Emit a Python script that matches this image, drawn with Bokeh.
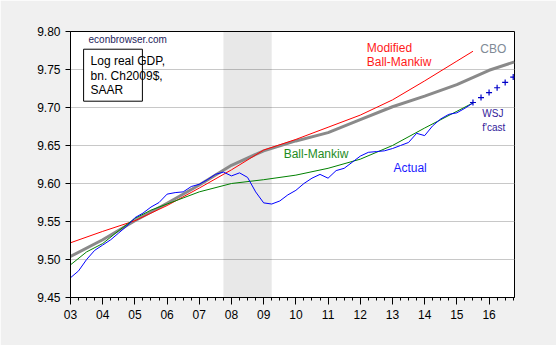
from bokeh.plotting import figure
from bokeh.models import (Range1d, FixedTicker, NumeralTickFormatter, Label,
                          BoxAnnotation)
from bokeh.embed import file_html
from bokeh.resources import INLINE

# ---------------- data ----------------
actual_start = 2003.0          # 2003Q1, quarterly
actual = [
    9.476, 9.485, 9.500, 9.512,
    9.519, 9.526, 9.535, 9.544,
    9.555, 9.561, 9.569, 9.575,
    9.586, 9.588, 9.589, 9.596,
    9.599, 9.605, 9.612, 9.615,
    9.610, 9.614, 9.608, 9.589,
    9.5745, 9.573, 9.577, 9.585,
    9.591, 9.600, 9.607, 9.612,
    9.607, 9.617, 9.620, 9.628,
    9.636, 9.641, 9.642, 9.643,
    9.646, 9.650, 9.654, 9.666,
    9.663, 9.676, 9.685, 9.691,
    9.693, 9.699, 9.706,
]

wsj_x = [2015.5, 2015.75, 2016.0, 2016.25, 2016.5, 2016.75]
wsj = [9.7066, 9.713, 9.7197, 9.726, 9.733, 9.740]

cbo_x = [2003, 2004, 2005, 2006, 2007, 2008, 2009, 2010, 2011, 2012,
         2013, 2014, 2015, 2016, 2016.79]
cbo = [9.504, 9.526, 9.551, 9.574, 9.598, 9.624, 9.643, 9.656, 9.667,
       9.684, 9.701, 9.715, 9.730, 9.749, 9.760]

mod_bm_x = [2003, 2004, 2005, 2006, 2007, 2008, 2009, 2010, 2011, 2012,
            2013, 2014, 2015, 2015.5]
mod_bm = [9.522, 9.537, 9.551, 9.571, 9.594, 9.618, 9.644, 9.658, 9.674,
          9.690, 9.710, 9.735, 9.761, 9.774]

bm_x = [2003, 2003.5, 2004, 2004.5, 2005, 2005.5, 2006, 2006.5, 2007, 2008,
        2009, 2010, 2011, 2012, 2013, 2014, 2015, 2015.5]
bm = [9.493, 9.510, 9.521, 9.538, 9.554, 9.565, 9.573, 9.581, 9.589, 9.600,
      9.605, 9.611, 9.620, 9.632, 9.650, 9.673, 9.695, 9.706]

recession = (2007.75, 2009.25)
year_ticks = list(range(2003, 2017))
year_labels = ["03", "04", "05", "06", "07", "08", "09", "10", "11", "12",
               "13", "14", "15", "16"]
y_ticks = [9.45, 9.50, 9.55, 9.60, 9.65, 9.70, 9.75, 9.80]

actual_x = [actual_start + 0.25 * i for i in range(len(actual))]

# ---------------- figure ----------------
FONT = "Liberation Sans"
p = figure(width=556, height=345, output_backend="svg", toolbar_location=None,
           x_range=Range1d(2003.0, 2016.79), y_range=Range1d(9.45, 9.80))
p.min_border_left = 70
p.min_border_right = 42
p.min_border_top = 31
p.min_border_bottom = 48
p.border_fill_color = "#f0f0f0"
p.background_fill_color = "white"
p.outline_line_color = "black"
p.outline_line_width = 1
p.outline_line_alpha = 1

# axes
minor = [y + q / 4 for y in range(2003, 2017) for q in range(4)]
p.xaxis.ticker = FixedTicker(ticks=year_ticks, minor_ticks=minor)
p.xaxis.major_label_overrides = {t: l for t, l in zip(year_ticks, year_labels)}
p.yaxis.ticker = FixedTicker(ticks=y_ticks)
p.yaxis.formatter = NumeralTickFormatter(format="0.00")
for ax in (p.xaxis[0], p.yaxis[0]):
    ax.axis_line_color = "black"
    ax.major_tick_line_color = "black"
    ax.minor_tick_line_color = "black"
    ax.major_tick_in = 0
    ax.minor_tick_in = 0
    ax.major_label_text_font = FONT
    ax.major_label_text_font_size = "12px"
    ax.major_label_text_color = "black"
    ax.major_label_standoff = 5
p.xaxis.major_tick_out = 7
p.xaxis.minor_tick_out = 3
p.yaxis.major_tick_out = 5
p.yaxis.minor_tick_line_color = None

p.xgrid.grid_line_color = None
p.ygrid.grid_line_color = "#c8c8c8"
p.ygrid.grid_line_width = 1

# recession shading
p.add_layout(BoxAnnotation(left=recession[0], right=recession[1],
                           fill_color="black", fill_alpha=0.09,
                           line_color=None, level="underlay"))

# lines
p.line(cbo_x, cbo, line_color="#8a8a8a", line_width=3)
p.line(mod_bm_x, mod_bm, line_color="#ff0000", line_width=1)
p.line(bm_x, bm, line_color="#008000", line_width=1)
p.line(actual_x, actual, line_color="#0000ff", line_width=1)
p.scatter(wsj_x, wsj, marker="cross", size=6, line_width=1.2,
          line_color="#0000c8")

# text annotations
def lab(x, y, text, color, size="12px"):
    p.add_layout(Label(x=x, y=y, text=text, text_color=color,
                       text_font=FONT, text_font_size=size,
                       text_baseline="middle", text_align="left"))

lab(2003.56, 9.7899, "econbrowser.com", "#1c1c5a", "10px")
p.add_layout(BoxAnnotation(left=2003.407, right=2005.233, bottom=9.7083,
                           top=9.7767, fill_color="white", fill_alpha=1,
                           line_color="black", line_alpha=1, line_width=1))
lab(2003.624, 9.7609, "Log real GDP,", "black")
lab(2003.624, 9.7412, "bn. Ch2009$,", "black")
lab(2003.624, 9.7228, "SAAR", "black")
lab(2012.20, 9.7780, "Modified", "#ff1a1a")
lab(2012.20, 9.7600, "Ball-Mankiw", "#ff1a1a")
lab(2015.73, 9.7767, "CBO", "#808a96")
lab(2015.79, 9.6924, "WSJ", "#33229a", "10px")
lab(2015.79, 9.6740, "f'cast", "#33229a", "10px")
lab(2009.62, 9.6386, "Ball-Mankiw", "#1e8c1e")
lab(2013.03, 9.6200, "Actual", "#1a1aff")

open("out.html", "w").write(file_html(p, INLINE))
